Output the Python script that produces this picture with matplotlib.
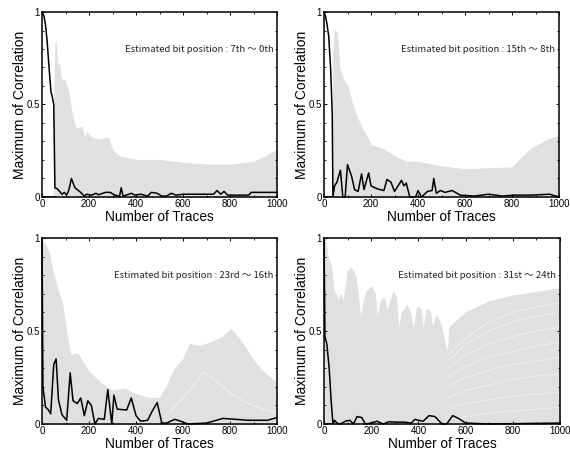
import matplotlib
matplotlib.use("Agg")
import matplotlib.pyplot as plt

GRAY = "#dfe0e0"
PALE = "#f1f1f1"

# upper edge of the gray bundle of wrong-key traces
env_x_1 = [50, 53, 58, 65, 72, 80, 95, 110, 125, 140, 150, 170, 180, 190, 210, 240, 280, 300, 330, 400, 500, 600, 700, 800, 900, 950, 1000]
env_y_1 = [0.0, 0.6, 0.84, 0.72, 0.72, 0.64, 0.63, 0.58, 0.46, 0.38, 0.37, 0.38, 0.31, 0.35, 0.32, 0.31, 0.32, 0.25, 0.22, 0.2, 0.2, 0.185, 0.175, 0.175, 0.19, 0.22, 0.255]
env_x_2 = [35, 38, 45, 55, 65, 80, 100, 120, 150, 180, 200, 250, 300, 350, 400, 500, 600, 700, 800, 830, 880, 950, 1000]
env_y_2 = [0.0, 0.75, 0.9, 0.89, 0.7, 0.64, 0.6, 0.5, 0.4, 0.33, 0.28, 0.26, 0.22, 0.19, 0.19, 0.165, 0.15, 0.155, 0.16, 0.2, 0.26, 0.31, 0.33]
env_x_3 = [0, 5, 15, 30, 45, 60, 85, 100, 120, 150, 175, 200, 250, 300, 350, 400, 450, 500, 530, 560, 600, 630, 670, 720, 770, 805, 850, 900, 950, 1000]
env_y_3 = [0.0, 0.98, 0.96, 0.92, 0.82, 0.75, 0.65, 0.52, 0.37, 0.38, 0.33, 0.28, 0.22, 0.18, 0.19, 0.16, 0.14, 0.14, 0.2, 0.29, 0.35, 0.43, 0.42, 0.44, 0.47, 0.51, 0.44, 0.34, 0.27, 0.22]
env_x_4 = [0, 5, 15, 30, 40, 50, 60, 70, 80, 92, 100, 113, 125, 135, 145, 155, 165, 178, 200, 215, 225, 240, 255, 265, 280, 295, 305, 315, 330, 350, 365, 378, 395, 408, 420, 435, 450, 460, 470, 480, 495, 510, 525, 530, 600, 700, 800, 900, 1000]
env_y_4 = [0.0, 1.0, 0.9, 0.85, 0.72, 0.7, 0.66, 0.7, 0.65, 0.74, 0.82, 0.84, 0.82, 0.78, 0.68, 0.55, 0.64, 0.71, 0.74, 0.7, 0.56, 0.66, 0.68, 0.6, 0.66, 0.71, 0.68, 0.5, 0.6, 0.64, 0.6, 0.5, 0.63, 0.62, 0.5, 0.62, 0.6, 0.5, 0.57, 0.58, 0.53, 0.44, 0.37, 0.52, 0.6, 0.66, 0.69, 0.71, 0.73]

# a few traces that stand out from the bundle
extra_x_3 = [540, 600, 640, 690, 720, 770, 820, 880, 940, 1000]
extra_y_3 = [0.06, 0.14, 0.2, 0.28, 0.25, 0.2, 0.15, 0.11, 0.08, 0.06]
extra_x_4 = [525, 600, 700, 800, 900, 1000]
extra_y_4 = [
    [0.37, 0.46, 0.55, 0.6, 0.63, 0.65],
    [0.34, 0.43, 0.5, 0.55, 0.58, 0.6],
    [0.3, 0.37, 0.43, 0.47, 0.5, 0.52],
    [0.25, 0.31, 0.36, 0.39, 0.42, 0.44],
    [0.2, 0.25, 0.29, 0.32, 0.34, 0.36],
    [0.14, 0.18, 0.21, 0.24, 0.26, 0.27],
    [0.09, 0.11, 0.13, 0.15, 0.16, 0.17],
    [0.03, 0.04, 0.06, 0.07, 0.08, 0.09],
]

# correct-key trace, black
key_x_1 = [0, 8, 15, 22, 30, 38, 44, 50, 55, 65, 75, 85, 95, 105, 115, 125, 140, 160, 180, 190, 210, 230, 240, 270, 290, 310, 330, 337, 345, 370, 380, 395, 420, 450, 465, 490, 510, 530, 550, 570, 600, 700, 730, 745, 760, 775, 790, 880, 890, 1000]
key_y_1 = [1.0, 0.98, 0.93, 0.84, 0.7, 0.57, 0.54, 0.5, 0.05, 0.045, 0.03, 0.015, 0.025, 0.01, 0.04, 0.1, 0.05, 0.03, 0.005, 0.015, 0.01, 0.02, 0.012, 0.025, 0.025, 0.01, 0.005, 0.05, 0.005, 0.015, 0.02, 0.01, 0.015, 0.005, 0.025, 0.02, 0.005, 0.005, 0.02, 0.01, 0.015, 0.015, 0.015, 0.035, 0.015, 0.03, 0.01, 0.01, 0.025, 0.025]
key_x_2 = [0, 6, 12, 20, 28, 35, 38, 45, 55, 70, 80, 90, 100, 118, 130, 145, 160, 170, 190, 200, 225, 255, 268, 285, 300, 330, 340, 350, 365, 390, 400, 415, 440, 460, 467, 478, 495, 515, 545, 580, 640, 700, 760, 810, 880, 960, 1000]
key_y_2 = [1.0, 0.98, 0.94, 0.87, 0.7, 0.45, 0.0, 0.06, 0.08, 0.145, 0.0, 0.0, 0.175, 0.11, 0.04, 0.03, 0.125, 0.04, 0.13, 0.06, 0.045, 0.035, 0.095, 0.08, 0.03, 0.09, 0.06, 0.075, 0.0, 0.0, 0.035, 0.0, 0.03, 0.035, 0.1, 0.02, 0.035, 0.025, 0.035, 0.01, 0.005, 0.015, 0.005, 0.01, 0.01, 0.015, 0.0]
key_x_3 = [0, 4, 15, 25, 37, 50, 60, 70, 85, 105, 120, 132, 150, 165, 180, 195, 210, 225, 240, 265, 280, 297, 306, 320, 360, 380, 400, 420, 450, 465, 490, 510, 530, 565, 590, 620, 700, 770, 880, 960, 1000]
key_y_3 = [1.0, 0.2, 0.09, 0.08, 0.055, 0.32, 0.35, 0.13, 0.05, 0.02, 0.275, 0.125, 0.11, 0.14, 0.045, 0.125, 0.1, 0.0, 0.03, 0.025, 0.185, 0.0, 0.155, 0.08, 0.075, 0.14, 0.045, 0.015, 0.02, 0.06, 0.115, 0.005, 0.005, 0.025, 0.015, 0.0, 0.005, 0.03, 0.02, 0.02, 0.035]
key_x_4 = [0, 4, 12, 22, 30, 38, 45, 55, 70, 90, 110, 125, 140, 160, 175, 200, 225, 250, 275, 310, 340, 370, 385, 400, 420, 445, 470, 500, 520, 545, 570, 600, 700, 1000]
key_y_4 = [1.0, 0.47, 0.43, 0.3, 0.13, 0.0, 0.02, 0.005, 0.0, 0.015, 0.02, 0.0, 0.04, 0.035, 0.0, 0.005, 0.015, 0.0, 0.012, 0.01, 0.01, 0.005, 0.025, 0.02, 0.015, 0.045, 0.04, 0.0, 0.0, 0.045, 0.03, 0.005, 0.0, 0.005]
# the key trace sits on zero until it takes over
zero_end = [55, 38, 0, 38]

notes = ["Estimated bit position : 7th \uff5e 0th", "Estimated bit position : 15th \uff5e 8th",
         "Estimated bit position : 23rd \uff5e 16th", "Estimated bit position : 31st \uff5e 24th"]
xticks = [0, 200, 400, 600, 800, 1000]
yticks = [0, 0.5, 1]
yticklabels = ["0", "0.5", "1"]

plt.rcParams["font.family"] = ["Liberation Sans", "DejaVu Sans"]
fig = plt.figure(figsize=(5.7, 4.51), dpi=100)
W, H = 570.0, 451.0
boxes = [(42, 12, 277, 197), (324, 12, 559, 197), (42, 238, 277, 424), (324, 238, 560, 424)]
envs = [(env_x_1, env_y_1), (env_x_2, env_y_2), (env_x_3, env_y_3), (env_x_4, env_y_4)]
keys = [(key_x_1, key_y_1), (key_x_2, key_y_2), (key_x_3, key_y_3), (key_x_4, key_y_4)]

for i in range(4):
    l, t, r, b = boxes[i]
    ax = fig.add_axes([l / W, 1 - b / H, (r - l) / W, (b - t) / H])
    ax.fill_between(envs[i][0], 0, envs[i][1], color=GRAY, lw=0.8)
    if i == 2:
        ax.plot(extra_x_3, extra_y_3, color=PALE, lw=0.7)
    if i == 3:
        for ys in extra_y_4:
            ax.plot(extra_x_4, ys, color=PALE, lw=0.6)
    ax.plot(keys[i][0], keys[i][1], color="black", lw=1.1, clip_on=False)
    if zero_end[i] > 0:
        ax.plot([0, zero_end[i]], [0, 0], color="black", lw=1.2)
    ax.set_xlim(0, 1000)
    ax.set_ylim(0, 1)
    ax.set_xticks(xticks)
    ax.set_yticks(yticks)
    ax.set_yticklabels(yticklabels)
    ax.set_xticks(range(0, 1001, 100), minor=True)
    ax.set_yticks([0.1 * k for k in range(11)], minor=True)
    ax.tick_params(which="both", direction="in", top=True, right=True, length=2, width=0.7, labelsize=7, pad=1.5)
    ax.tick_params(which="minor", length=1.2, width=0.6)
    for s in ax.spines.values():
        s.set_linewidth(1.1)
    ax.set_xlabel("Number of Traces", fontsize=9.8, labelpad=0.5)
    ax.set_ylabel("Maximum of Correlation", fontsize=10, labelpad=0)
    ax.text(0.985, 0.8, notes[i], transform=ax.transAxes, ha="right", va="center", fontsize=6.9,
            family=["Noto Sans CJK JP", "DejaVu Sans"], color="#222222")

fig.savefig("out.png", dpi=100)
plt.close()
